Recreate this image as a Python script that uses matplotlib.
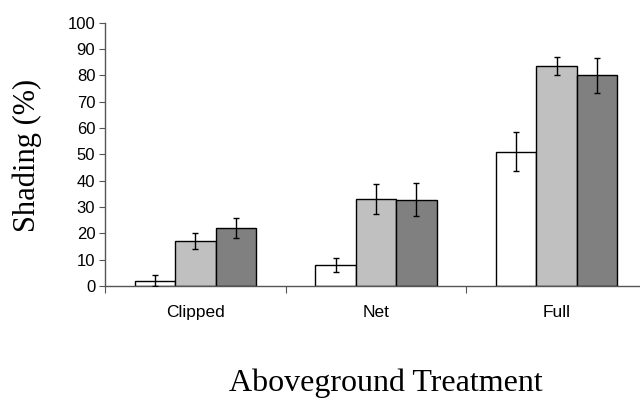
import matplotlib
matplotlib.use("Agg")
import matplotlib.pyplot as plt
import numpy as np

categories = ["Clipped", "Net", "Full"]
series1 = [2.0, 8.0, 51.0]
series2 = [17.0, 33.0, 83.5]
series3 = [22.0, 32.7, 80.0]
err1 = [2.0, 2.6, 7.4]
err2 = [3.0, 5.7, 3.3]
err3 = [3.8, 6.3, 6.7]
yticks = list(range(0, 101, 10))

colors = ["#FFFFFF", "#C0C0C0", "#808080"]

fig = plt.figure(figsize=(6.4, 3.98), dpi=100)
ax = fig.add_axes([105/640, 1-286/398, (647-105)/640, (286-22.7)/398])

x = np.arange(len(categories))
w = 0.224
for i, (vals, errs) in enumerate(zip([series1, series2, series3], [err1, err2, err3])):
    ax.bar(x + (i-1)*w, vals, width=w, color=colors[i], edgecolor="black", linewidth=1.0, zorder=2)
    ax.errorbar(x + (i-1)*w, vals, yerr=errs, fmt="none", ecolor="black", elinewidth=1.0, capsize=2.5, capthick=1.0, zorder=3)

ax.set_xlim(-0.5, 2.5)
ax.set_ylim(0, 100)
ax.set_yticks(yticks)
ax.set_yticklabels([str(t) for t in yticks], fontsize=12, family="Liberation Sans")
ax.set_xticks([-0.5, 0.5, 1.5, 2.5])
ax.set_xticklabels([])
ax.set_xticks(x, minor=True)
ax.set_xticklabels(categories, minor=True, fontsize=12.5, family="Liberation Sans")
ax.tick_params(axis="x", which="minor", length=0, pad=14)
ax.tick_params(axis="x", which="major", direction="out", length=5, color="#555555")
ax.tick_params(axis="y", direction="out", length=4, color="#555555", pad=3)
for s in ["top", "right"]:
    ax.spines[s].set_visible(False)
for s in ["left", "bottom"]:
    ax.spines[s].set_color("#555555")
    ax.spines[s].set_linewidth(1.0)

fig.text(27/640, 1-155/398, "Shading (%)", rotation=90, ha="center", va="center",
         fontsize=22, family="Liberation Serif")
fig.text(386/640, 1-383/398, "Aboveground Treatment", ha="center", va="center",
         fontsize=23, family="Liberation Serif")

fig.savefig("out.png", dpi=100)
